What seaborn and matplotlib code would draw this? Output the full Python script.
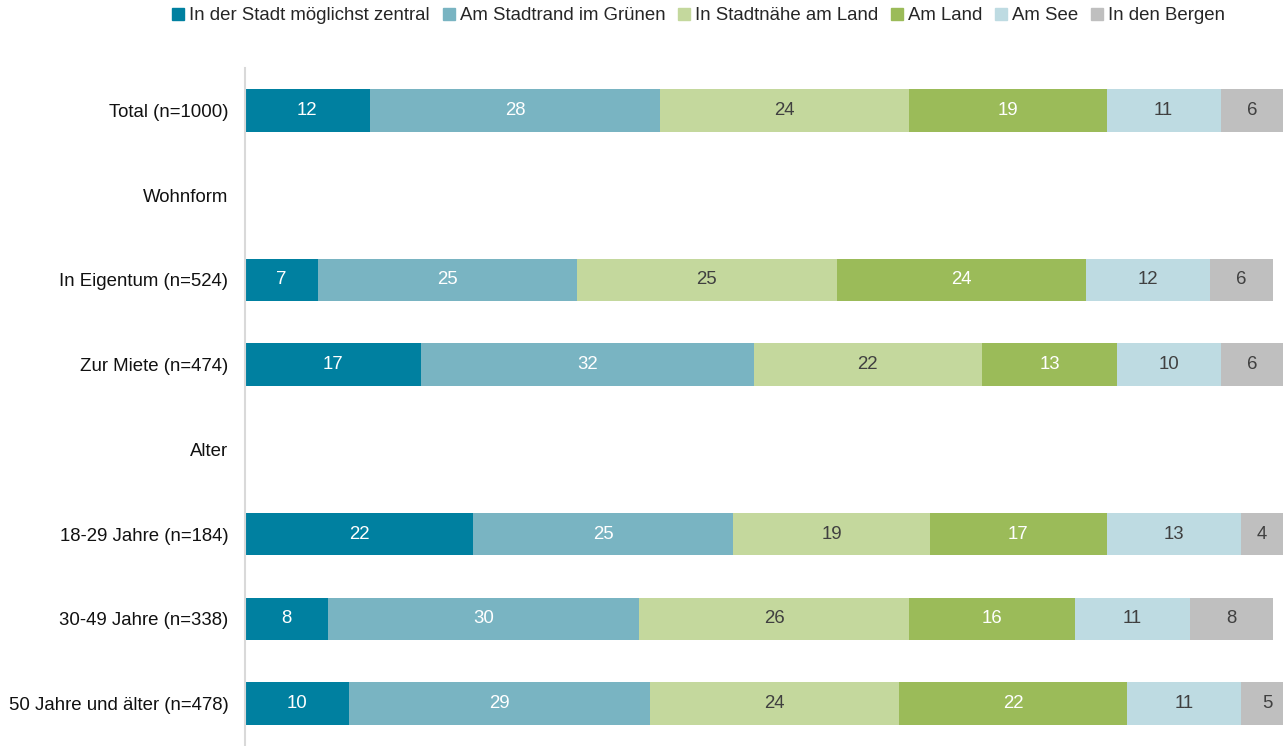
import numpy as np
import pandas as pd
import matplotlib
matplotlib.use('Agg')
import matplotlib.pyplot as plt
import seaborn as sns
from matplotlib.lines import Line2D

# Data (percent)
rows = ['Total (n=1000)', 'Wohnform', 'In Eigentum (n=524)', 'Zur Miete (n=474)',
        'Alter', '18-29 Jahre (n=184)', '30-49 Jahre (n=338)', '50 Jahre und älter (n=478)']
data_rows = ['Total (n=1000)', 'In Eigentum (n=524)', 'Zur Miete (n=474)',
             '18-29 Jahre (n=184)', '30-49 Jahre (n=338)', '50 Jahre und älter (n=478)']
categories = ['In der Stadt möglichst zentral', 'Am Stadtrand im Grünen', 'In Stadtnähe am Land',
              'Am Land', 'Am See', 'In den Bergen']
zentral = [12, 7, 17, 22, 8, 10]
stadtrand = [28, 25, 32, 25, 30, 29]
stadtnaehe = [24, 25, 22, 19, 26, 24]
land = [19, 24, 13, 17, 16, 22]
see = [11, 12, 10, 13, 11, 11]
berge = [6, 6, 6, 4, 8, 5]

colors = ['#0080A0', '#79B4C2', '#C4D89D', '#9BBB59', '#BEDBE2', '#BFBFBF']
text_colors = ['white', 'white', '#404040', 'white', '#404040', '#404040']

df = pd.DataFrame({'row': data_rows, categories[0]: zentral, categories[1]: stadtrand,
                   categories[2]: stadtnaehe, categories[3]: land, categories[4]: see,
                   categories[5]: berge})
cum = df[categories].cumsum(axis=1)

sns.set_style('white')
plt.rcParams['font.family'] = ['Liberation Sans', 'DejaVu Sans']
fs = 13.4

fig = plt.figure(figsize=(12.88, 7.46), dpi=100)
ax = fig.add_axes([245 / 1288, 0, 1038 / 1288, 678 / 746])

# stacked bars: draw cumulative totals from largest to smallest
for i in range(len(categories) - 1, -1, -1):
    plot_df = pd.DataFrame({'row': df['row'], 'value': cum[categories[i]]})
    sns.barplot(data=plot_df, x='value', y='row', order=rows, orient='h',
                color=colors[i], saturation=1, width=0.5, errorbar=None,
                linewidth=0, ax=ax)

# value labels
for r_idx, row in enumerate(data_rows):
    ypos = rows.index(row)
    start = 0
    for c_idx, cat in enumerate(categories):
        v = df.loc[r_idx, cat]
        ax.text(start + v / 2, ypos, str(v), ha='center', va='center',
                fontsize=fs, color=text_colors[c_idx])
        start += v

ax.set_xlim(0, 100)
ax.set_ylim(7.5, -0.5)
ax.set_xlabel('')
ax.set_ylabel('')
ax.set_xticks([])
ax.tick_params(axis='y', length=0, labelsize=fs, labelcolor='#111111', pad=12)
for s in ['top', 'right', 'bottom']:
    ax.spines[s].set_visible(False)
ax.spines['left'].set_color('#D9D9D9')
ax.spines['left'].set_linewidth(1.5)

handles = [Line2D([0], [0], marker='s', linestyle='', markersize=8,
                  markerfacecolor=c, markeredgecolor=c) for c in colors]
fig.legend(handles, categories, loc='center', bbox_to_anchor=(0.542, 0.979), ncol=6,
           frameon=False, fontsize=fs, handletextpad=0.2, columnspacing=0.6,
           handlelength=0.8)

fig.savefig('out.png', dpi=100)
